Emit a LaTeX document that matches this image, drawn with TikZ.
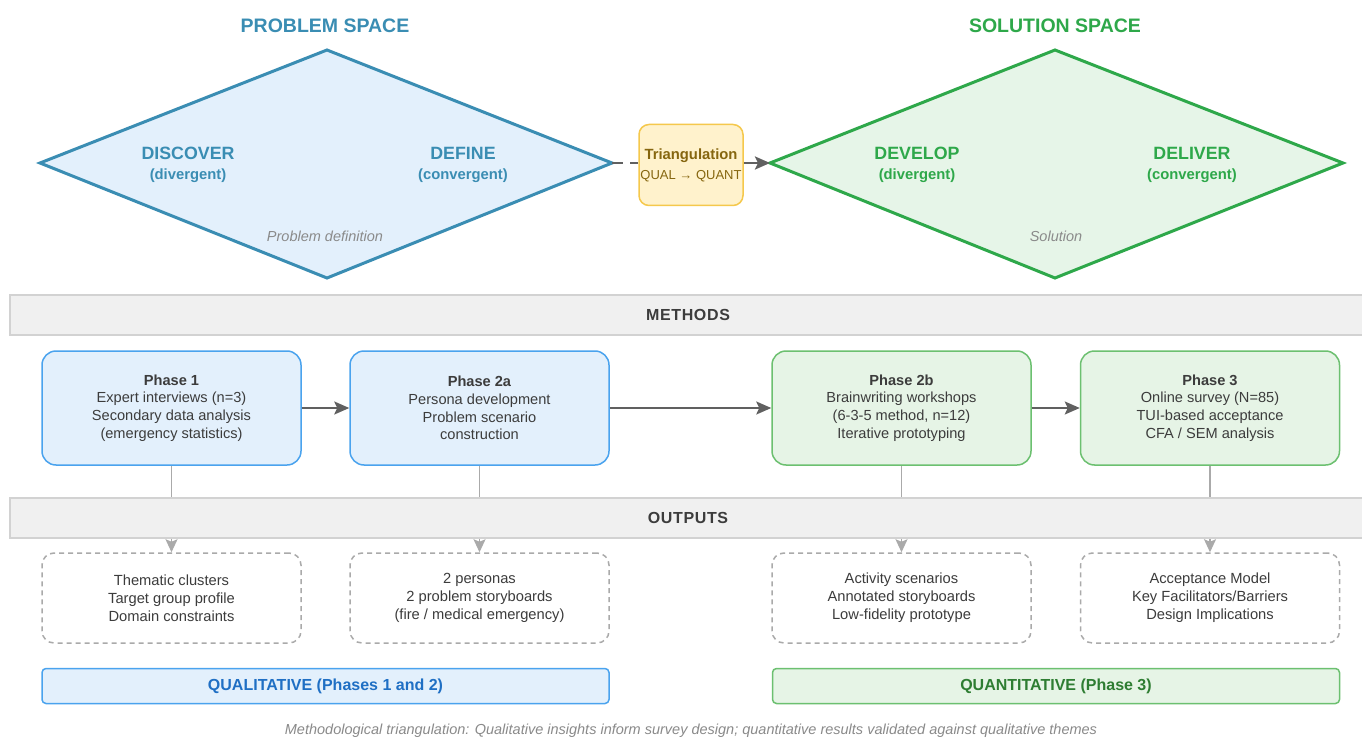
\documentclass[tikz,border=0pt]{standalone}
\usepackage{fontspec}
\setmainfont{Liberation Sans}
\usetikzlibrary{arrows.meta}
\definecolor{blueS}{HTML}{4AA3EE}
\definecolor{blueF}{HTML}{E3F0FC}
\definecolor{greenS}{HTML}{6CC070}
\definecolor{greenF}{HTML}{E6F4E6}
\definecolor{probC}{HTML}{3A8DB3}
\definecolor{solC}{HTML}{2EA84A}
\definecolor{solF}{HTML}{E6F5E8}
\definecolor{triF}{HTML}{FFF2CC}
\definecolor{triS}{HTML}{F5C84C}
\definecolor{triT}{HTML}{86660F}
\definecolor{barF}{HTML}{F0F0F0}
\definecolor{barS}{HTML}{D2D2D2}
\definecolor{txt}{HTML}{3C3C3C}
\definecolor{arrC}{HTML}{606060}
\definecolor{downC}{HTML}{AAAAAA}
\definecolor{qualT}{HTML}{1F6FC4}
\definecolor{quanT}{HTML}{2E7D32}
\definecolor{capT}{HTML}{8A8A8A}
\begin{document}
\begin{tikzpicture}[x=1pt,y=-1pt,
  ph/.style={rounded corners=14pt, minimum width=259pt, minimum height=114pt, line width=1.5pt, align=center, inner sep=0pt, font=\fontsize{14.6}{17.6}\selectfont, text=txt},
  phb/.style={ph, draw=blueS, fill=blueF},
  phg/.style={ph, draw=greenS, fill=greenF},
  outbox/.style={draw=downC, dash pattern=on 5pt off 4pt, rounded corners=12pt, minimum width=259pt, minimum height=90pt, line width=1.5pt, align=center, inner sep=0pt, font=\fontsize{14.7}{18}\selectfont, text=txt, fill=white},
  barbox/.style={draw=barS, fill=barF, line width=1.5pt, minimum width=1356pt, minimum height=40pt, inner sep=0pt, font=\bfseries\fontsize{16}{19}\selectfont\addfontfeature{LetterSpace=4}, text=txt},
  flow/.style={-{Stealth[length=15pt,width=13pt,inset=3pt]}, line width=2pt, draw=arrC},
  down/.style={-{Stealth[length=13pt,width=12pt,inset=2.5pt]}, line width=1.5pt, draw=downC},
  title/.style={font=\bfseries\fontsize{19.5}{22}\selectfont},
  stage/.style={font=\bfseries\fontsize{17.8}{20}\selectfont, align=center},
  sub/.style={font=\bfseries\fontsize{14.8}{17}\selectfont},
  note/.style={font=\itshape\fontsize{14.5}{17}\selectfont, text=capT},
  kind/.style={rounded corners=4pt, line width=1.5pt, minimum width=567pt, minimum height=35pt, inner sep=0pt, font=\bfseries\fontsize{16}{19}\selectfont}
]
\useasboundingbox (0,0) rectangle (1362,738);
\fill[white] (0,0) rectangle (1362,738);

% titles
\node[title, text=probC] (tP) at (325,26) {PROBLEM SPACE};
\node[title, text=solC] (tS) at (1055,26) {SOLUTION SPACE};

% diamonds
\coordinate (pL) at (40,163);
\coordinate (pT) at (327,50);
\coordinate (pR) at (612,163);
\coordinate (pB) at (327,278);
\draw[draw=probC, fill=blueF, line width=3pt, line join=miter] (pL) -- (pT) -- (pR) -- (pB) -- cycle;
\coordinate (sL) at (770,163);
\coordinate (sT) at (1055,50);
\coordinate (sR) at (1343,163);
\coordinate (sB) at (1055,278);
\draw[draw=solC, fill=solF, line width=3pt, line join=miter] (sL) -- (sT) -- (sR) -- (sB) -- cycle;

\node[stage, text=probC] (disc) at (188,153) {DISCOVER};
\node[sub, text=probC] (discs) at (188,176) {(divergent)};
\node[stage, text=probC] (defi) at (463,153) {DEFINE};
\node[sub, text=probC] (defis) at (463,176) {(convergent)};
\node[note] (pdef) at (325,236) {Problem definition};

\node[stage, text=solC] (deve) at (917,153) {DEVELOP};
\node[sub, text=solC] (deves) at (917,176) {(divergent)};
\node[stage, text=solC] (deli) at (1192,153) {DELIVER};
\node[sub, text=solC] (delis) at (1192,176) {(convergent)};
\node[note] (sol) at (1056,236) {Solution};

% triangulation
\node[draw=triS, fill=triF, line width=1.5pt, rounded corners=10pt, minimum width=104pt, minimum height=81pt, inner sep=0pt, align=center, text=triT] (tri) at (691,165)
  {{\bfseries\fontsize{14.8}{17}\selectfont Triangulation}\\[7pt]{\fontsize{13}{15}\selectfont QUAL → QUANT}};
\draw[line width=2.5pt, draw=arrC, dash pattern=on 11pt off 7pt] (pR) -- (pR -| tri.west);
\draw[flow, line width=2.5pt] (sL -| tri.east) -- (sL);

% phase boxes
\node[phb] (p1) at (171.5,408) {\textbf{Phase 1}\\Expert interviews (n=3)\\Secondary data analysis\\(emergency statistics)};
\node[phb] (p2a) at (479.5,408) {\textbf{Phase 2a}\\Persona development\\Problem scenario\\construction};
\node[phg] (p2b) at (901.5,408) {\textbf{Phase 2b}\\Brainwriting workshops\\(6-3-5 method, n=12)\\Iterative prototyping};
\node[phg] (p3) at (1210,408) {\textbf{Phase 3}\\Online survey (N=85)\\TUI-based acceptance\\CFA / SEM analysis};

\draw[flow] (p1) -- (p2a);
\draw[flow] (p2a) -- (p2b);
\draw[flow] (p2b) -- (p3);

% outputs
\node[outbox] (o1) at (171.5,598) {Thematic clusters\\Target group profile\\Domain constraints};
\node[outbox] (o2a) at (479.5,598) {2 personas\\2 problem storyboards\\(fire / medical emergency)};
\node[outbox] (o2b) at (901.5,598) {Activity scenarios\\Annotated storyboards\\Low-fidelity prototype};
\node[outbox] (o3) at (1210,598) {Acceptance Model\\Key Facilitators/Barriers\\Design Implications};

\draw[down] (p1) -- (o1);
\draw[down] (p2a) -- (o2a);
\draw[down] (p2b) -- (o2b);
\draw[down] (p3) -- (o3);

% bars
\node[barbox] (meth) at (688,315) {METHODS};
\node[barbox] (outp) at (688,518) {OUTPUTS};

% kind bars
\node[kind, draw=blueS, fill=blueF, text=qualT] (qual) at (325.5,686) {QUALITATIVE (Phases 1 and 2)};
\node[kind, draw=greenS, fill=greenF, text=quanT] (quan) at (1056,686) {QUANTITATIVE (Phase 3)};

% caption
\node[font=\itshape\fontsize{14.5}{17}\selectfont, text=capT] (cap) at (691,731) {Methodological triangulation: Qualitative insights inform survey design; quantitative results validated against qualitative themes};
\end{tikzpicture}
\end{document}
